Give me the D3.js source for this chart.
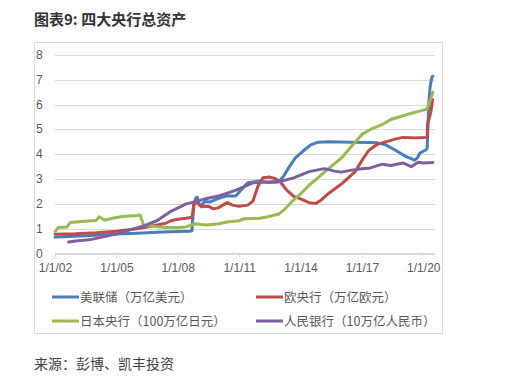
<!DOCTYPE html>
<html>
<head>
<meta charset="utf-8">
<script src="https://cdn.jsdelivr.net/npm/d3@7"></script>
<style>
  body { margin: 0; background: #fff; }
  text { font-family: "Liberation Sans", "Noto Sans CJK SC", sans-serif; }
  .cjk { font-family: "Noto Sans CJK SC", sans-serif; }
</style>
</head>
<body>
<svg id="chart" width="519" height="390"></svg>
<script>
// values (date, value)
var fed = [
  ["2002-01-01",0.66],["2002-06-01",0.68],["2003-01-01",0.70],["2004-01-01",0.74],
  ["2005-01-01",0.79],["2006-01-01",0.82],["2007-01-01",0.86],["2008-01-01",0.89],
  ["2008-08-01",0.90],["2008-09-10",0.92],["2008-09-20",1.30],["2008-10-15",1.90],
  ["2008-11-20",2.25],["2008-12-15",2.27],["2009-01-15",2.00],["2009-02-15",1.92],
  ["2009-05-01",2.10],["2009-08-01",2.08],["2010-01-01",2.22],["2010-06-01",2.32],
  ["2010-11-01",2.32],["2011-02-01",2.55],["2011-06-01",2.85],["2012-01-01",2.92],
  ["2012-06-01",2.86],["2012-12-01",2.88],["2013-03-01",3.10],["2013-06-01",3.45],
  ["2013-10-01",3.85],["2014-02-01",4.10],["2014-07-01",4.38],["2014-11-01",4.48],
  ["2015-06-01",4.50],["2016-06-01",4.48],["2017-06-01",4.47],["2017-10-01",4.46],
  ["2018-03-01",4.38],["2018-09-01",4.15],["2019-03-01",3.90],["2019-08-01",3.76],
  ["2019-09-20",3.86],["2019-11-01",4.05],["2020-02-15",4.17],["2020-03-10",4.24],
  ["2020-03-25",5.20],["2020-04-10",6.10],["2020-05-01",6.70],["2020-06-01",7.10],
  ["2020-06-20",7.15]
];
var ecb = [
  ["2002-01-01",0.78],["2003-01-01",0.80],["2004-01-01",0.84],["2005-01-01",0.90],
  ["2006-01-01",1.00],["2006-06-01",1.06],["2007-01-01",1.15],["2007-06-01",1.22],
  ["2007-09-01",1.32],["2008-01-01",1.38],["2008-06-01",1.42],["2008-09-15",1.46],
  ["2008-10-15",2.05],["2008-12-01",2.10],["2009-01-01",2.00],["2009-03-01",1.88],
  ["2009-07-01",1.90],["2009-10-01",1.80],["2010-01-01",1.85],["2010-06-01",2.05],
  ["2010-09-01",1.95],["2011-01-01",1.90],["2011-06-01",1.95],["2011-09-01",2.10],
  ["2011-12-01",2.70],["2012-03-01",3.05],["2012-07-01",3.08],["2012-10-01",3.02],
  ["2013-01-01",2.90],["2013-05-01",2.55],["2013-09-01",2.30],["2014-01-01",2.20],
  ["2014-06-01",2.05],["2014-10-01",2.02],["2015-01-01",2.15],["2015-06-01",2.45],
  ["2016-01-01",2.80],["2016-09-01",3.30],["2017-01-01",3.75],["2017-05-01",4.15],
  ["2017-10-01",4.40],["2018-03-01",4.50],["2018-09-01",4.62],["2019-01-01",4.68],
  ["2019-08-01",4.66],["2020-02-01",4.68],["2020-03-10",4.70],["2020-03-20",5.25],
  ["2020-04-15",5.45],["2020-05-15",5.70],["2020-06-15",6.20]
];
var boj = [
  ["2002-01-01",0.88],["2002-03-01",1.05],["2002-08-01",1.07],["2002-10-01",1.25],
  ["2003-06-01",1.30],["2004-01-01",1.33],["2004-03-01",1.48],["2004-06-01",1.35],
  ["2005-01-01",1.45],["2005-06-01",1.50],["2006-01-01",1.53],["2006-03-01",1.55],
  ["2006-05-01",1.15],["2006-10-01",1.10],["2007-06-01",1.05],["2008-01-01",1.05],
  ["2008-06-01",1.07],["2008-11-01",1.20],["2009-06-01",1.15],["2010-01-01",1.20],
  ["2010-06-01",1.27],["2011-01-01",1.32],["2011-04-01",1.40],["2012-01-01",1.42],
  ["2012-06-01",1.48],["2012-12-01",1.58],["2013-04-01",1.80],["2013-08-01",2.10],
  ["2014-01-01",2.40],["2014-06-01",2.75],["2014-12-01",3.10],["2015-06-01",3.45],
  ["2016-01-01",3.85],["2016-06-01",4.25],["2017-01-01",4.80],["2017-06-01",5.00],
  ["2018-01-01",5.20],["2018-06-01",5.40],["2019-01-01",5.55],["2019-06-01",5.65],
  ["2020-01-01",5.78],["2020-03-01",5.80],["2020-04-15",6.05],["2020-06-20",6.50]
];
var pboc = [
  ["2002-09-01",0.46],["2003-01-01",0.50],["2003-09-01",0.55],["2004-06-01",0.68],
  ["2005-01-01",0.78],["2005-09-01",0.95],["2006-06-01",1.13],["2007-01-01",1.33],
  ["2007-09-01",1.70],["2008-06-01",2.00],["2009-01-01",2.12],["2009-06-01",2.22],
  ["2010-01-01",2.32],["2010-07-01",2.45],["2011-01-01",2.60],["2011-09-01",2.85],
  ["2012-06-01",2.88],["2013-01-01",2.90],["2013-09-01",3.05],["2014-06-01",3.30],
  ["2015-03-01",3.42],["2015-09-01",3.32],["2016-01-01",3.28],["2016-06-01",3.35],
  ["2017-01-01",3.42],["2017-06-01",3.45],["2018-01-01",3.60],["2018-06-01",3.55],
  ["2019-01-01",3.65],["2019-06-01",3.50],["2019-10-01",3.68],["2020-01-01",3.65],
  ["2020-06-20",3.67]
];
var seriesNames = ["美联储（万亿美元）","欧央行（万亿欧元）","日本央行（100万亿日元）","人民银行（10万亿人民币）"];
var seriesColors = ["#4a7ebb","#be4b48","#98b954","#7d60a0"];
var yTicks = [0,1,2,3,4,5,6,7,8];
var xTickYears = [2002,2005,2008,2011,2014,2017,2020];

var parse = d3.timeParse("%Y-%m-%d");
var svg = d3.select("#chart");

svg.append("text").attr("class","cjk")
   .attr("x",34).attr("y",25)
   .style("font-size","15px").style("font-weight","bold").style("fill","#333")
   .text("图表9: 四大央行总资产");

// outer frame
svg.append("rect").attr("x",34.5).attr("y",42.5).attr("width",408).attr("height",291)
   .attr("fill","none").attr("stroke","#d9d9d9");

var x = d3.scaleTime()
   .domain([new Date(2002,0,1), new Date(2020,0,1)])
   .range([55, 423.3]);
var y = d3.scaleLinear().domain([0,8]).range([253.5,55]);

// gridlines
svg.append("g").selectAll("line").data(yTicks).enter().append("line")
   .attr("x1",55).attr("x2",435)
   .attr("y1",function(d){ return Math.round(y(d))+0.5; })
   .attr("y2",function(d){ return Math.round(y(d))+0.5; })
   .attr("stroke","#d9d9d9").attr("stroke-width",1);

svg.append("g").selectAll("text").data(yTicks).enter().append("text")
   .attr("x",36).attr("y",function(d){ return y(d)+4; })
   .style("font-size","12px").style("fill","#595959")
   .text(function(d){ return d; });

// x axis
var xAxis = d3.axisBottom(x)
   .tickValues(xTickYears.map(function(yr){ return new Date(yr,0,1); }))
   .tickFormat(function(d){ return "1/1/" + d3.timeFormat("%y")(d); })
   .tickSizeInner(4).tickSizeOuter(0).tickPadding(6);
var gx = svg.append("g").attr("transform","translate(0,253.5)").call(xAxis);
gx.select(".domain").attr("stroke","#d9d9d9").attr("d","M55,0H435");
gx.selectAll(".tick line").attr("stroke","#d9d9d9");
gx.selectAll(".tick text").style("font-size","12px").style("fill","#595959")
   .style("font-family","Liberation Sans");

var line = d3.line()
   .x(function(d){ return x(parse(d[0])); })
   .y(function(d){ return y(d[1]); });

[fed, ecb, boj, pboc].forEach(function(s, i){
  svg.append("path").datum(s)
     .attr("d", line)
     .attr("fill","none")
     .attr("stroke", seriesColors[i])
     .attr("stroke-width",3)
     .attr("stroke-linejoin","round")
     .attr("stroke-linecap","round");
});

// legend
var legPos = [[52,297],[256,297],[52,321],[256,321]];
seriesNames.forEach(function(name, i){
  var g = svg.append("g").attr("transform","translate("+legPos[i][0]+","+legPos[i][1]+")");
  g.append("line").attr("x1",0).attr("x2",27).attr("y1",0).attr("y2",0)
   .attr("stroke",seriesColors[i]).attr("stroke-width",3);
  g.append("text").attr("class","cjk").attr("x",28).attr("y",4.5)
   .style("font-size","12.5px").style("fill","#595959").text(name);
});

svg.append("text").attr("class","cjk")
   .attr("x",34).attr("y",369)
   .style("font-size","14px").style("fill","#404040")
   .text("来源：彭博、凯丰投资");
</script>
</body>
</html>
